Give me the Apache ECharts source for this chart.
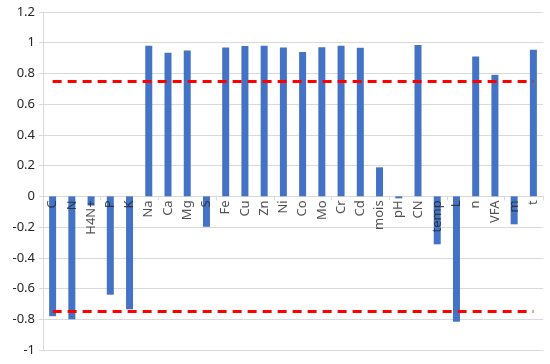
<!DOCTYPE html>
<html>
<head>
<meta charset="utf-8">
<title>Correlation bars</title>
<script src="https://cdn.jsdelivr.net/npm/echarts@6/dist/echarts.min.js"></script>
<style>
    html, body { margin: 0; padding: 0; background: #fff; }
    #bar_chart { width: 550px; height: 364px; }
</style>
</head>
<body>
<div id="bar_chart"></div>
<script>
// Data
// ------------------------------

var categories = ['C', 'N', 'H4N+', 'P', 'K', 'Na', 'Ca', 'Mg', 'S', 'Fe', 'Cu', 'Zn', 'Ni',
    'Co', 'Mo', 'Cr', 'Cd', 'mois', 'pH', 'CN', 'temp', 'L', 'n', 'VFA', 'm', 't'];

var values = [-0.78, -0.80, -0.06, -0.64, -0.735, 0.98, 0.934, 0.95, -0.198, 0.969, 0.978, 0.98, 0.969,
    0.939, 0.971, 0.98, 0.967, 0.189, -0.013, 0.986, -0.312, -0.816, 0.911, 0.791, -0.182, 0.954];

var thresholds = [0.75, -0.75];

var yTicks = { min: -1, max: 1.2, interval: 0.2 };


// Chart
// ------------------------------

var chartElement = document.getElementById('bar_chart');
var chart = echarts.init(chartElement, null, { renderer: 'canvas' });

var labelColor = '#262626',
    gridColor = '#d9d9d9',
    barColor = '#4472c4',
    refColor = '#ff0000';

chart.setOption({
    animation: false,
    textStyle: {
        fontFamily: 'Noto Sans'
    },
    grid: {
        left: 43,
        right: 7,
        top: 12,
        bottom: 14,
        containLabel: false,
        outerBoundsMode: 'none'
    },
    xAxis: {
        type: 'category',
        data: categories,
        axisLine: {
            onZero: true,
            lineStyle: { color: gridColor, width: 1 }
        },
        axisTick: {
            show: true,
            length: 4,
            lineStyle: { color: gridColor }
        },
        // category names are drawn by the helper series below, at the zero line
        axisLabel: { show: false }
    },
    yAxis: {
        type: 'value',
        min: yTicks.min,
        max: yTicks.max,
        interval: yTicks.interval,
        axisLine: {
            show: true,
            lineStyle: { color: gridColor }
        },
        axisTick: {
            show: true,
            length: 4,
            lineStyle: { color: gridColor }
        },
        axisLabel: {
            margin: 8,
            fontSize: 13,
            color: labelColor,
            formatter: function (v) {
                return String(Math.round(v * 10) / 10);
            }
        },
        splitLine: {
            lineStyle: { color: gridColor, width: 1 }
        }
    },
    series: [
        {
            type: 'bar',
            data: values,
            barWidth: 7,
            itemStyle: { color: barColor },
            markLine: {
                silent: true,
                symbol: 'none',
                label: { show: false },
                lineStyle: {
                    color: refColor,
                    width: 3,
                    type: [9, 6]
                },
                data: thresholds.map(function (t) {
                    return [
                        { coord: [categories[0], t] },
                        { coord: [categories[categories.length - 1], t] }
                    ];
                })
            }
        },
        {
            // category labels sitting under the zero line, above the bars
            type: 'scatter',
            symbolSize: 0,
            silent: true,
            zlevel: 1,
            data: categories.map(function (c) { return [c, 0]; }),
            label: {
                show: true,
                formatter: function (p) { return p.value[0]; },
                position: [0, 4],
                rotate: 90,
                align: 'right',
                verticalAlign: 'middle',
                fontSize: 13,
                color: labelColor,
                textBorderWidth: 0,
                textBorderColor: 'transparent'
            }
        }
    ]
});
</script>
</body>
</html>
